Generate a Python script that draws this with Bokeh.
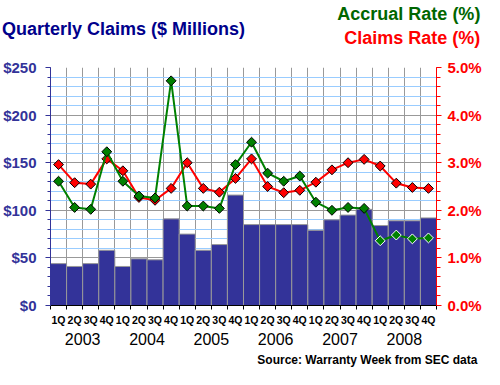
import numpy as np
from bokeh.plotting import figure
from bokeh.models import Range1d, LinearAxis, FixedTicker
from bokeh.embed import file_html
from bokeh.resources import INLINE

# ---------------- data ----------------
quarters = ["1Q", "2Q", "3Q", "4Q"] * 6
years = ["2003", "2004", "2005", "2006", "2007", "2008"]
claims = [44, 41, 44, 58, 41, 49, 48, 91, 75, 58, 64, 116,
          85, 85, 85, 85, 79, 90, 95, 101, 84, 89, 89, 92]
claims_rate = [2.96, 2.58, 2.55, 3.08, 2.83, 2.27, 2.21, 2.46, 3.00, 2.46, 2.38, 2.67,
               3.08, 2.50, 2.37, 2.42, 2.59, 2.85, 3.00, 3.07, 2.93, 2.57, 2.48, 2.46]
accrual_rate = [2.61, 2.06, 2.02, 3.23, 2.61, 2.30, 2.26, 4.72, 2.09, 2.09, 2.04, 2.96,
                3.43, 2.78, 2.61, 2.72, 2.17, 2.00, 2.06, 2.04, 1.36, 1.48, 1.40, 1.42]
left_ticks = [0, 50, 100, 150, 200, 250]
left_tick_labels = ["$0", "$50", "$100", "$150", "$200", "$250"]
right_ticks = [0, 1, 2, 3, 4, 5]
right_tick_labels = ["0.0%", "1.0%", "2.0%", "3.0%", "4.0%", "5.0%"]
title_text = "Quarterly Claims ($ Millions)"
accrual_label = "Accrual Rate (%)"
claims_label = "Claims Rate (%)"
source_text = "Source: Warranty Week from SEC data"

# ---------------- layout constants ----------------
W, H = 484, 369
FL, FR, FT, FB = 49, 440, 58, 305   # frame edges in canvas px
n = len(claims)
LMAX, RMAX = 250, 5
FONT = "Liberation Sans"

p = figure(width=W, height=H, output_backend="svg", toolbar_location=None,
           x_range=Range1d(0, n), y_range=Range1d(0, LMAX),
           min_border_left=FL, min_border_right=W - FR,
           min_border_top=FT, min_border_bottom=H - FB,
           background_fill_color="white", border_fill_color="white")
p.outline_line_color = None
p.extra_y_ranges = {"rate": Range1d(0, RMAX)}

centers = [i + 0.5 for i in range(n)]
bounds = list(range(n + 1))
left_minor = list(np.arange(0, LMAX + 1, 10))
right_minor = list(np.round(np.arange(0, RMAX + 0.01, 0.2), 2))

# grids
p.xgrid.ticker = FixedTicker(ticks=bounds)
p.xgrid.grid_line_color = "#999999"
p.ygrid.ticker = FixedTicker(ticks=left_ticks, minor_ticks=left_minor)
p.ygrid.grid_line_color = "#999999"
p.ygrid.minor_grid_line_color = "#99CCFF"

# quarter axis
xa = p.xaxis[0]
xa.ticker = FixedTicker(ticks=centers, minor_ticks=bounds)
xa.major_label_overrides = {c: q for c, q in zip(centers, quarters)}
xa.major_tick_out = 0
xa.major_tick_in = 0
xa.minor_tick_out = 4
xa.minor_tick_in = 0
xa.axis_line_color = "black"
xa.minor_tick_line_color = "black"
xa.major_label_standoff = 4
xa.major_label_text_font = FONT
xa.major_label_text_font_style = "bold"
xa.major_label_text_font_size = "10.5px"
xa.major_label_text_color = "black"

# year axis
year_centers = [4 * i + 2 for i in range(len(years))]
ya2 = LinearAxis(ticker=FixedTicker(ticks=year_centers),
                 major_label_overrides={c: y for c, y in zip(year_centers, years)},
                 axis_line_color=None, major_tick_line_color=None, minor_tick_line_color=None,
                 major_tick_out=0, major_tick_in=0, minor_tick_out=0, minor_tick_in=0,
                 major_label_standoff=4, major_label_text_font=FONT,
                 major_label_text_font_size="16px", major_label_text_color="black")
p.add_layout(ya2, "below")

# left axis
la = p.yaxis[0]
la.ticker = FixedTicker(ticks=left_ticks, minor_ticks=left_minor)
la.major_label_overrides = {t: s for t, s in zip(left_ticks, left_tick_labels)}
la.axis_line_color = "#333399"
la.major_tick_line_color = "#333399"
la.minor_tick_line_color = "#333399"
la.major_tick_out = 5
la.major_tick_in = 0
la.minor_tick_out = 3
la.minor_tick_in = 0
la.major_label_standoff = 9
la.major_label_text_font = FONT
la.major_label_text_font_style = "bold"
la.major_label_text_font_size = "15px"
la.major_label_text_color = "#333399"

# right axis
ra = LinearAxis(y_range_name="rate",
                ticker=FixedTicker(ticks=right_ticks, minor_ticks=right_minor),
                major_label_overrides={t: s for t, s in zip(right_ticks, right_tick_labels)},
                axis_line_color="red", major_tick_line_color="red", minor_tick_line_color="red",
                major_tick_out=5, major_tick_in=0, minor_tick_out=4, minor_tick_in=0,
                major_label_standoff=6, major_label_text_font=FONT,
                major_label_text_font_style="bold", major_label_text_font_size="15px",
                major_label_text_color="red")
p.add_layout(ra, "right")


# free-standing texts: drawn as the single tick label of a bare axis in a side panel
def text_axis(txt, center_px, side, color, size, standoff, bold=True):
    xpos = (center_px - FL) / (FR - FL) * n
    ax = LinearAxis(ticker=FixedTicker(ticks=[xpos]), major_label_overrides={xpos: txt},
                    axis_line_color=None, major_tick_line_color=None, minor_tick_line_color=None,
                    major_tick_out=0, major_tick_in=0, minor_tick_out=0, minor_tick_in=0,
                    major_label_standoff=standoff, major_label_text_font=FONT,
                    major_label_text_font_style="bold" if bold else "normal",
                    major_label_text_font_size=size, major_label_text_color=color)
    p.add_layout(ax, side)


# above panel, nearest the frame first
text_axis(claims_label, 415.5, "above", "#FF0000", "18px", 20)
text_axis(title_text, 123, "above", "#00008B", "18px", -14)
text_axis(accrual_label, 412, "above", "#006600", "18px", -8)
# below panel, after the quarter and year rows
text_axis(source_text, 370, "below", "black", "12px", 5)

# bars
p.vbar(x=centers, top=claims, width=1, fill_color="#333399", line_color="#999999", line_width=1)

# lines & markers (marker outline turns white where it sits on a bar)
scale = LMAX / RMAX
claims_edge = ["white" if r * scale < b else "black" for r, b in zip(claims_rate, claims)]
accrual_edge = ["white" if r * scale < b else "black" for r, b in zip(accrual_rate, claims)]

p.line(centers, claims_rate, y_range_name="rate", line_color="#FF0000", line_width=2)
p.scatter(centers, claims_rate, y_range_name="rate", marker="square", size=7, angle=np.pi / 4,
          fill_color="#FF0000", line_color=claims_edge, line_width=1)
p.line(centers, accrual_rate, y_range_name="rate", line_color="#008000", line_width=2)
p.scatter(centers, accrual_rate, y_range_name="rate", marker="square", size=7, angle=np.pi / 4,
          fill_color="#008000", line_color=accrual_edge, line_width=1)

open("out.html", "w").write(file_html(p, INLINE))
